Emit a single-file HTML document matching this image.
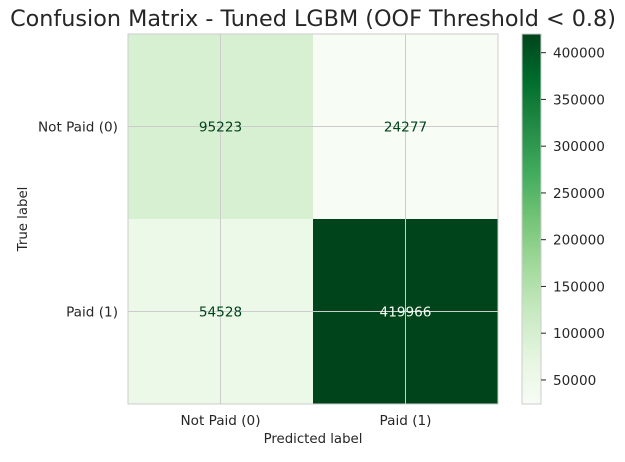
<!DOCTYPE html>
<html><head><meta charset="utf-8"><style>
body{margin:0;background:#fff;}
svg text{font-family:"DejaVu Sans","Liberation Sans",sans-serif;fill:#262626;}
</style></head><body>
<svg id="c" width="625" height="457" xmlns="http://www.w3.org/2000/svg">
<defs><linearGradient id="g" x1="0" y1="1" x2="0" y2="0">
<stop offset="0" stop-color="#f7fcf5"/><stop offset=".125" stop-color="#e5f5e0"/><stop offset=".25" stop-color="#c7e9c0"/><stop offset=".375" stop-color="#a1d99b"/><stop offset=".5" stop-color="#74c476"/><stop offset=".625" stop-color="#41ab5d"/><stop offset=".75" stop-color="#238b45"/><stop offset=".875" stop-color="#006d2c"/><stop offset="1" stop-color="#00441b"/></linearGradient></defs>
<text x="313" y="26" font-size="22.3" text-anchor="middle">Confusion Matrix - Tuned LGBM (OOF Threshold &lt; 0.8)</text>
<g id="cells"></g>
<rect x="522" y="34" width="19" height="370" fill="url(#g)" stroke="#ccc"/>
<g id="cb"></g>
<text x="313" y="443" font-size="13.3" text-anchor="middle">Predicted label</text>
<text x="27" y="219" font-size="13.3" text-anchor="middle" transform="rotate(-90 27 219)">True label</text>
</svg>
<script>
const classes=["Not Paid (0)","Paid (1)"];
const matrix=[[95223,24277],[54528,419966]];
const cbTicks=[50000,100000,150000,200000,250000,300000,350000,400000];
const stops=["#f7fcf5","#e5f5e0","#c7e9c0","#a1d99b","#74c476","#41ab5d","#238b45","#006d2c","#00441b"];
const NS="http://www.w3.org/2000/svg";
const X0=128,Y0=34,S=370,n=classes.length,cw=S/n,FS=13.6;
const flat=matrix.flat(),vmin=Math.min(...flat),vmax=Math.max(...flat);
function hex(h){return [1,3,5].map(i=>parseInt(h.substr(i,2),16));}
function cmap(t){t=Math.max(0,Math.min(1,t))*8;const i=Math.min(7,Math.floor(t)),f=t-i;const a=hex(stops[i]),b=hex(stops[i+1]);return "rgb("+a.map((v,k)=>Math.round(v+(b[k]-v)*f)).join(",")+")";}
function mk(tag,at,p){const e=document.createElementNS(NS,tag);for(const k in at)e.setAttribute(k,at[k]);p.appendChild(e);return e;}
const cells=document.getElementById("cells");
matrix.forEach((row,r)=>row.forEach((v,c)=>{
 const e=mk("rect",{x:X0+c*cw,y:Y0+r*cw,width:cw,height:cw,fill:cmap((v-vmin)/(vmax-vmin))},cells);
 
 
}));
for(let i=0;i<n;i++){
 const px=X0+(i+0.5)*cw, py=Y0+(i+0.5)*cw;
 let l=mk("line",{x1:px,x2:px,y1:Y0,y2:Y0+S,stroke:"#cccccc","stroke-width":1},cells);
 
 
 l=mk("line",{y1:py,y2:py,x1:X0,x2:X0+S,stroke:"#cccccc","stroke-width":1},cells);
 
 
 let t=mk("text",{x:px,y:Y0+S+21,"font-size":FS,"text-anchor":"middle"},cells);t.textContent=classes[i];
 
 
 t=mk("text",{x:X0-10,y:py+5,"font-size":FS,"text-anchor":"end"},cells);t.textContent=classes[i];
 
 
}
matrix.forEach((row,r)=>row.forEach((v,c)=>{
 const t=mk("text",{x:X0+(c+0.5)*cw,y:Y0+(r+0.5)*cw+5,"font-size":FS,"text-anchor":"middle"},cells);
 t.style.fill=v>(vmin+vmax)/2?stops[0]:stops[8];
 t.textContent=v;
 
 
}));
mk("rect",{x:X0,y:Y0,width:S,height:S,fill:"none",stroke:"#cccccc"},cells);
const cb=document.getElementById("cb");
cbTicks.forEach(v=>{
 const y=Y0+S-(v-vmin)/(vmax-vmin)*S;
 const l=mk("line",{x1:541,x2:546,y1:y,y2:y,stroke:"#262626"},cb);
 
 
 const t=mk("text",{x:553,y:y+5,"font-size":FS},cb);t.textContent=v;
 
 
});
</script>
</body></html>
